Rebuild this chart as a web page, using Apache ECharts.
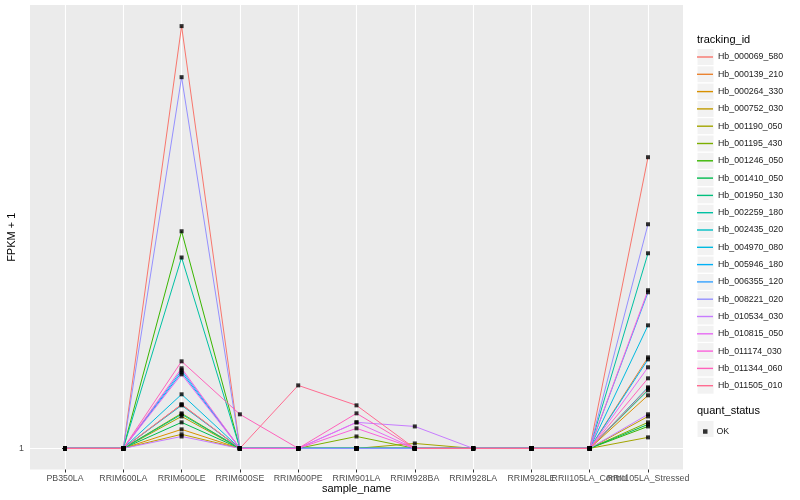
<!DOCTYPE html>
<html><head><meta charset="utf-8">
<script src="https://cdn.jsdelivr.net/npm/echarts@6/dist/echarts.min.js"></script>
<style>html,body{margin:0;padding:0;background:#fff}#c{width:800px;height:500px}</style>
</head><body><div id="c"></div>
<script>
// ---- data ----
const categories = ['PB350LA','RRIM600LA','RRIM600LE','RRIM600SE','RRIM600PE','RRIM901LA','RRIM928BA','RRIM928LA','RRIM928LE','RRII105LA_Control','RRII105LA_Stressed'];
const trackingIds = ['Hb_000069_580','Hb_000139_210','Hb_000264_330','Hb_000752_030','Hb_001190_050','Hb_001195_430','Hb_001246_050','Hb_001410_050','Hb_001950_130','Hb_002259_180','Hb_002435_020','Hb_004970_080','Hb_005946_180','Hb_006355_120','Hb_008221_020','Hb_010534_030','Hb_010815_050','Hb_011174_030','Hb_011344_060','Hb_011505_010'];
const quantStatus = ['OK'];
const hb_000069_580 = [1,1,9.0,1,1,1,1,1,1,1,4.55];
const hb_000139_210 = [1,1,1.257,1,1,1,1,1,1,1,1.606];
const hb_000264_330 = [1,1,1.104,1,1,1,1,1,1,1,1.318];
const hb_000752_030 = [1,1,1.076,1,1,1,1,1,1,1,1.181];
const hb_001190_050 = [1,1,1.181,1,1,1,1.026,1,1,1,1.059];
const hb_001195_430 = [1,1,1.200,1,1,1.064,1,1,1,1,1.145];
const hb_001246_050 = [1,1,3.095,1,1,1,1,1,1,1,1.121];
const hb_001410_050 = [1,1,1.145,1,1,1,1,1,1,1,1.133];
const hb_001950_130 = [1,1,1.194,1,1,1,1,1,1,1,1.353];
const hb_002259_180 = [1,1,2.70,1,1,1,1,1,1,1,2.76];
const hb_002435_020 = [1,1,1.251,1,1,1,1,1,1,1,1.374];
const hb_004970_080 = [1,1,1.325,1,1,1,1,1,1,1,1.897];
const hb_005946_180 = [1,1,1.485,1,1,1,1,1,1,1,1.589];
const hb_006355_120 = [1,1,1.501,1,1,1,1,1,1,1,2.253];
const hb_008221_020 = [1,1,6.90,1,1,1,1,1,1,1,3.21];
const hb_010534_030 = [1,1,1.064,1,1,1.145,1.121,1,1,1,1.194];
const hb_010815_050 = [1,1,1.470,1,1,1.145,1,1,1,1,1.525];
const hb_011174_030 = [1,1,1.517,1,1,1.110,1,1,1,1,2.277];
const hb_011344_060 = [1,1,1.573,1.194,1,1.200,1,1,1,1,1.440];
const hb_011505_010 = [1,1,1.257,1,1.388,1.251,1,1,1,1,1.367];
const seriesValues = [hb_000069_580,hb_000139_210,hb_000264_330,hb_000752_030,hb_001190_050,hb_001195_430,hb_001246_050,hb_001410_050,hb_001950_130,hb_002259_180,hb_002435_020,hb_004970_080,hb_005946_180,hb_006355_120,hb_008221_020,hb_010534_030,hb_010815_050,hb_011174_030,hb_011344_060,hb_011505_010];
const yTicks = [1];

// ---- styles / layout ----
const palette = ['#F8766D','#EA8331','#D89000','#C09B00','#A3A500','#7CAE00','#39B600','#00BB4E','#00BF7D','#00C1A3','#00BFC4','#00BAE0','#00B0F6','#35A2FF','#9590FF','#C77CFF','#E76BF3','#FA62DB','#FF62BC','#FF6C91'];
const FONT = '"Liberation Sans", Arial, Helvetica, sans-serif';
const W = 800, H = 500;
const panelLeft = 30, panelRight = 683, panelTop = 5, panelBottom = 469.5;
const xExpand = 0.6;
const unit = (panelRight - panelLeft) / (categories.length - 1 + 2*xExpand);
const bandInset = (xExpand - 0.5) * unit;

const allVals = seriesValues.flat();
const L = Math.log10(Math.max(...allVals));
const L0 = Math.log10(Math.min(...allVals));
const span = L - L0;
const yMin = Math.pow(10, L0 - 0.05*span), yMax = Math.pow(10, L + 0.05*span);
const catIdx = categories.map((c,i)=>i);

const series = trackingIds.map((id, k) => ({
  type:'line', name:id, xAxisIndex:1, yAxisIndex:1, data: seriesValues[k],
  symbol:'none', showSymbol:false, silent:true, animation:false,
  lineStyle:{width:1, color:palette[k]}, itemStyle:{color:palette[k]}, z:2
}));
const pts = [];
seriesValues.forEach(vals => vals.forEach((v,i)=>pts.push([categories[i],v])));
series.push({type:'scatter', name:quantStatus[0], xAxisIndex:1, yAxisIndex:1, data:pts, symbol:'rect', symbolSize:4,
  itemStyle:{color:'#000'}, silent:true, animation:false, z:5});

const keyY0 = 48.5, keyStep = 17.3;
const keys = trackingIds.map((id,i)=>({type:'rect', shape:{x:697, y:keyY0 + i*keyStep, width:17, height:17},
  style:{fill:'#F2F2F2', stroke:'#fff', lineWidth:1}, z:0, silent:true}));
keys.push({type:'rect', shape:{x:697, y:420.5, width:17, height:17}, style:{fill:'#F2F2F2', stroke:'#fff', lineWidth:1}, z:0, silent:true});

const noName = {color:'#000', fontSize:11, fontFamily:FONT};
const chart = echarts.init(document.getElementById('c'), null, {renderer:'canvas'});
chart.setOption({
  animation:false,
  backgroundColor:'#fff',
  textStyle:{fontFamily:FONT},
  grid:[
    {left:panelLeft, right:W-panelRight, top:panelTop, bottom:H-panelBottom, show:true, backgroundColor:'#EBEBEB', borderWidth:0, containLabel:false, outerBoundsMode:'none'},
    {left:panelLeft+bandInset, right:W-panelRight+bandInset, top:panelTop, bottom:H-panelBottom, show:false, containLabel:false, outerBoundsMode:'none'}
  ],
  title:[
    {text:'tracking_id', left:697, top:34, padding:0, textStyle:{fontSize:11, fontWeight:'normal', color:'#000', fontFamily:FONT}},
    {text:'quant_status', left:697, top:405, padding:0, textStyle:{fontSize:11, fontWeight:'normal', color:'#000', fontFamily:FONT}}
  ],
  legend:[
    {data:trackingIds, orient:'vertical', left:697, top:keyY0+0.5, padding:0, itemWidth:16, itemHeight:16, itemGap:keyStep-16,
     icon:'path://M0,0 h16 v1.4 h-16 Z', symbolKeepAspect:true,
     selectedMode:false, textStyle:{fontSize:8.8, lineHeight:16, color:'#1a1a1a', fontFamily:FONT}},
    {data:quantStatus, orient:'vertical', left:703, top:427, padding:0, itemWidth:4.5, itemHeight:4.5, icon:'rect',
     selectedMode:false, textStyle:{fontSize:8.8, color:'#1a1a1a', fontFamily:FONT, padding:[0,0,0,4]}}
  ],
  xAxis:[
    {type:'value', gridIndex:0, min:-xExpand, max:categories.length-1+xExpand,
     axisLine:{show:false},
     axisTick:{show:true, length:3, lineStyle:{color:'#333', width:1}, customValues:catIdx},
     axisLabel:{show:false, customValues:catIdx},
     splitLine:{show:true, lineStyle:{color:'#fff', width:1.1}}},
    {type:'category', gridIndex:1, data:categories, boundaryGap:true,
     axisLine:{show:false}, axisTick:{show:false}, splitLine:{show:false},
     axisLabel:{interval:0, color:'#4d4d4d', fontSize:8.8, margin:5, fontFamily:FONT, hideOverlap:false},
     name:'sample_name', nameLocation:'middle', nameGap:14, nameMoveOverlap:false, nameTextStyle:noName}
  ],
  yAxis:[
    {type:'log', gridIndex:0, logBase:10, min:yMin, max:yMax,
     axisLine:{show:false},
     axisTick:{show:true, length:3, lineStyle:{color:'#333', width:1}, customValues:yTicks},
     axisLabel:{customValues:yTicks, color:'#4d4d4d', fontSize:8.8, margin:6, fontFamily:FONT, formatter:v=>String(v), showMinLabel:true, showMaxLabel:true},
     splitLine:{show:true, lineStyle:{color:'#fff', width:1.1}},
     minorSplitLine:{show:false},
     name:'FPKM + 1', nameLocation:'middle', nameGap:12.5, nameMoveOverlap:false, nameRotate:90, nameTextStyle:noName},
    {type:'log', gridIndex:1, logBase:10, min:yMin, max:yMax, show:false}
  ],
  graphic:keys,
  series:series
});
</script></body></html>
